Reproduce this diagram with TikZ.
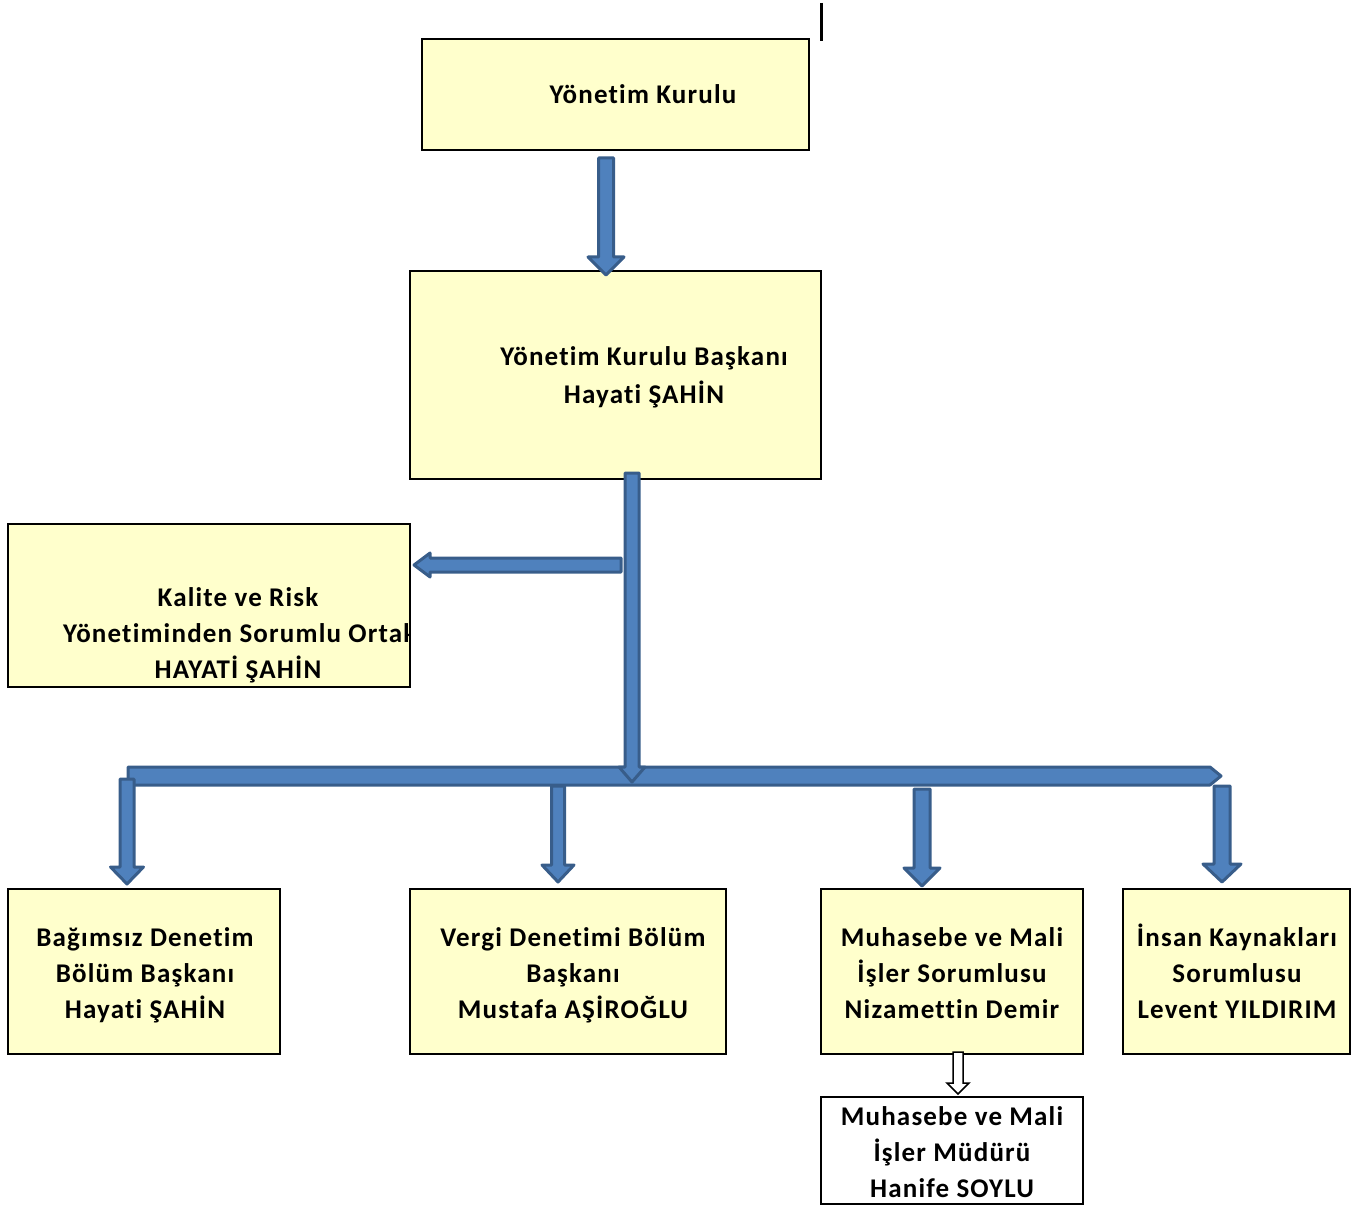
\documentclass[tikz,border=0pt]{standalone}
\usepackage{fontspec}
\setmainfont{Carlito}
\newfontfamily\lblfont[LetterSpace=4.4,Ligatures=CommonOff]{Carlito}
\definecolor{boxyellow}{HTML}{FFFFCC}
\definecolor{arrfill}{HTML}{4F81BD}
\definecolor{arrline}{HTML}{385D8A}
\newcommand\bdarrow[7]{% name, cx, y1, y2, w, h, L
  \filldraw[blockarr] (#2-#5,#3) -- (#2+#5,#3) -- (#2+#5,#4-#7) -- (#2+#6,#4-#7) -- (#2,#4)
     -- (#2-#6,#4-#7) -- (#2-#5,#4-#7) -- cycle;
  \coordinate (#1) at (#2,#4);}
\begin{document}
\begin{tikzpicture}[x=1pt,y=-1pt,
  blockarr/.style={fill=arrfill,draw=arrline,line width=3pt,line join=round},
  ybox/.style={fill=boxyellow,draw=black,line width=2pt},
  wbox/.style={fill=white,draw=black,line width=1.5pt},
  lbl/.style={font=\lblfont\fontsize{27}{30}\selectfont\bfseries,inner sep=0pt,anchor=base}]
\useasboundingbox (0,0) rectangle (1363,1206);
% top marker line
\draw[line width=3pt] (821,3) -- (821,41);
% boxes
\draw[ybox] (422,39) rectangle (809,150);
\node[lbl] (t1) at (643,104) {Yönetim Kurulu};
\draw[ybox] (410,271) rectangle (821,479);
\node[lbl] (t2a) at (644,366) {Yönetim Kurulu Başkanı};
\node[lbl] (t2b) at (644,403) {Hayati ŞAHİN};
\draw[ybox] (8,524) rectangle (410,687);
\begin{scope}
\clip (8,524) rectangle (409,687);
\node[lbl] (t3a) at (238,606) {Kalite ve Risk};
\node[lbl,anchor=base west] (t3b) at (63,642) {Yönetiminden Sorumlu Ortak};
\node[lbl] (t3c) at (238,678) {HAYATİ ŞAHİN};
\end{scope}
\draw[ybox] (8,889) rectangle (280,1054);
\node[lbl] (b1a) at (145,946) {Bağımsız Denetim};
\node[lbl] (b1b) at (145,982) {Bölüm Başkanı};
\node[lbl] (b1c) at (145,1018) {Hayati ŞAHİN};
\draw[ybox] (410,889) rectangle (726,1054);
\node[lbl] (b2a) at (573,946) {Vergi Denetimi Bölüm};
\node[lbl] (b2b) at (573,982) {Başkanı};
\node[lbl] (b2c) at (573,1018) {Mustafa AŞİROĞLU};
\draw[ybox] (821,889) rectangle (1083,1054);
\node[lbl] (b3a) at (952,946) {Muhasebe ve Mali};
\node[lbl] (b3b) at (952,982) {İşler Sorumlusu};
\node[lbl] (b3c) at (952,1018) {Nizamettin Demir};
\draw[ybox] (1123,889) rectangle (1350,1054);
\node[lbl] (b4a) at (1237,946) {İnsan Kaynakları};
\node[lbl] (b4b) at (1237,982) {Sorumlusu};
\node[lbl] (b4c) at (1237,1018) {Levent YILDIRIM};
\draw[wbox] (821,1097) rectangle (1083,1204);
\node[lbl] (b5a) at (952,1125) {Muhasebe ve Mali};
\node[lbl] (b5b) at (952,1161) {İşler Müdürü};
\node[lbl] (b5c) at (952,1197) {Hanife SOYLU};
% arrows
\bdarrow{a1}{606}{158}{275}{7.5}{18}{18}
% left arrow
\filldraw[blockarr] (621,558) -- (621,572) -- (430,572) -- (430,577) -- (414,565) -- (430,553) -- (430,558) -- cycle;
% horizontal bar
\filldraw[blockarr] (128,767) -- (1210,767) -- (1221,776) -- (1210,785) -- (128,785) -- cycle;
\bdarrow{a2}{632}{473}{782}{7}{13}{15}
\bdarrow{d1}{127}{779}{884}{7}{16.5}{17}
\bdarrow{d2}{558}{786}{882}{6.5}{16}{17}
\bdarrow{d3}{922}{789}{886}{8}{18}{18}
\bdarrow{d4}{1222}{786}{882}{8}{19}{18}
% small white arrow
\filldraw[fill=white,draw=black,line width=1.5pt,line join=miter] (953,1052) -- (963,1052) -- (963,1083) -- (969,1083) -- (958,1094) -- (947,1083) -- (953,1083) -- cycle;
\end{tikzpicture}
\end{document}
